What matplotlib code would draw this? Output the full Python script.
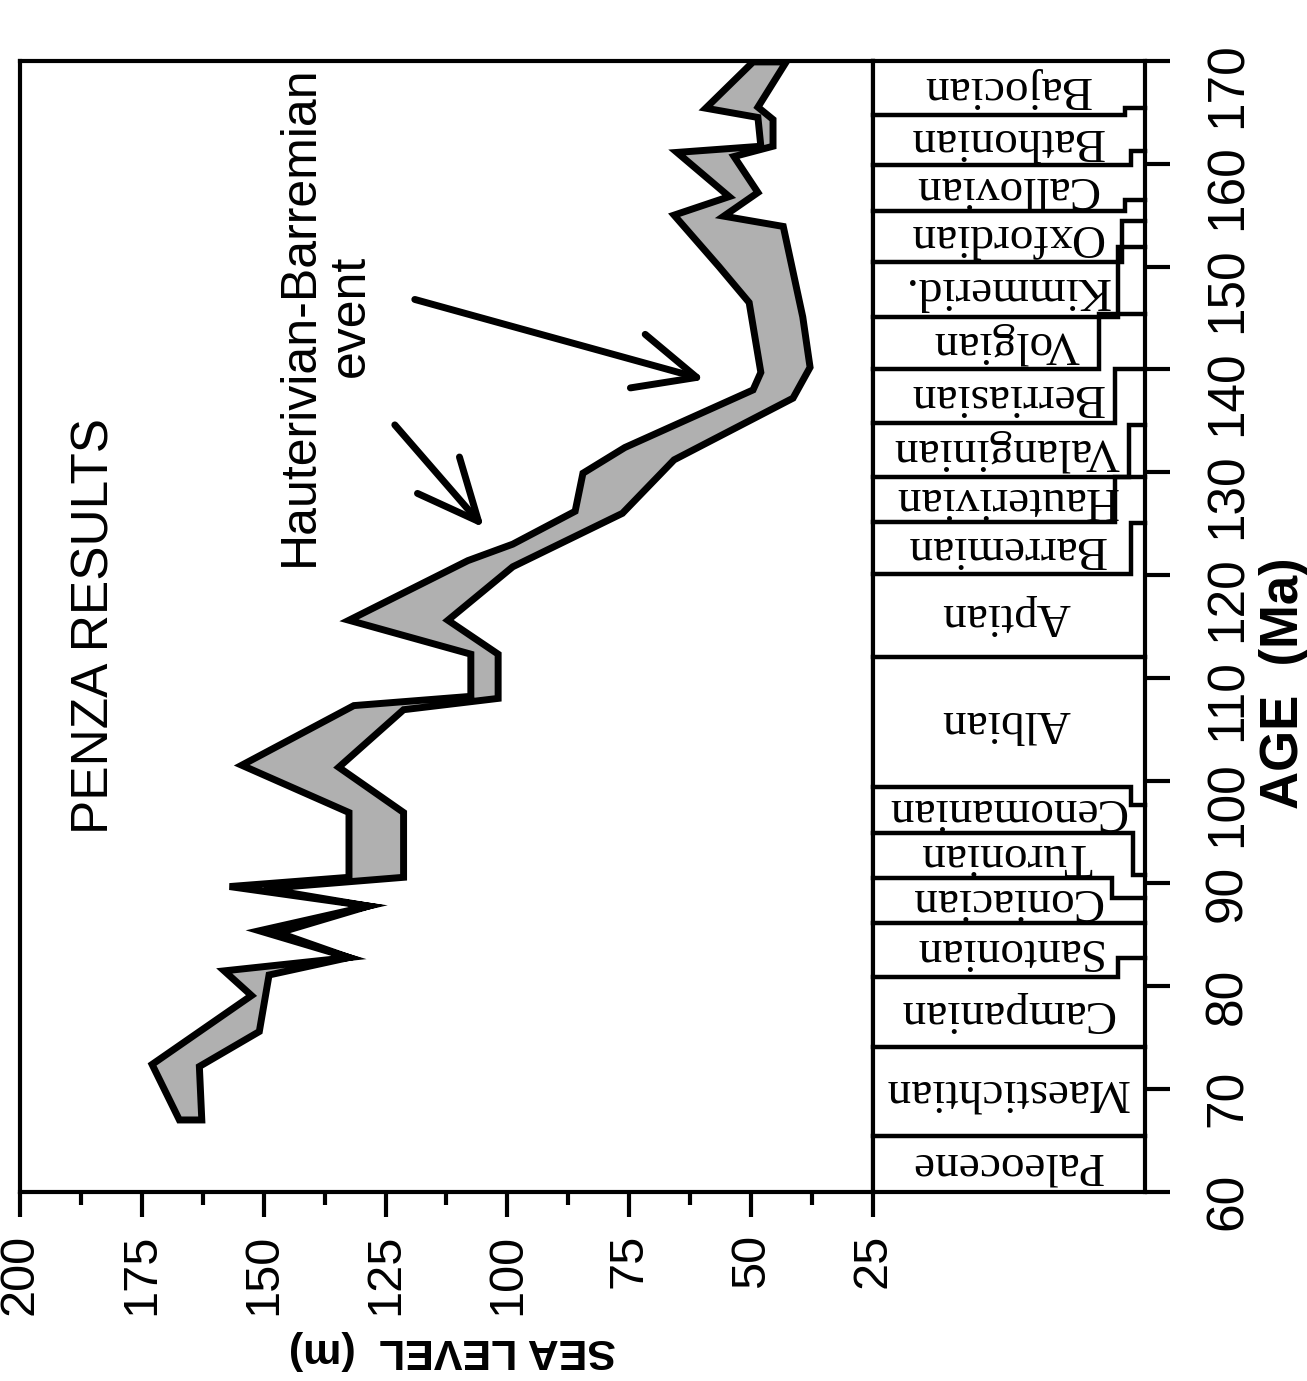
import matplotlib
matplotlib.use("Agg")
import matplotlib.pyplot as plt
from matplotlib.ticker import MultipleLocator

# upper edge of the band (high sea level), young -> old
hi_age = [67.0, 72.4, 79.1, 81.5, 82.8, 85.4, 87.8, 89.7, 90.6, 96.9, 101.5, 107.3,
          108.2, 112.3, 115.6, 121.4, 123.0, 126.2, 129.9, 132.4, 138.0, 139.7,
          146.5, 150.0, 155.0, 156.8, 161.1, 161.7, 164.5, 165.4, 169.9]
hi_sl = [167.3, 172.9, 152.5, 158.1, 132.5, 150.9, 128.5, 157.0, 132.5, 132.5, 154.5, 131.5,
         107.5, 107.5, 132.5, 108.1, 98.9, 86.1, 84.5, 75.9, 49.6, 48.0,
         50.4, 56.6, 65.8, 54.5, 65.2, 48.0, 48.6, 59.3, 49.6]

# lower edge of the band (low sea level), young -> old
lo_age = [67.0, 72.2, 75.6, 81.1, 82.8, 85.2, 87.8, 89.5, 90.6, 96.9, 101.3, 106.9,
          108.0, 112.3, 115.6, 120.8, 126.0, 131.2, 137.2, 140.2, 145.1, 153.9,
          154.9, 157.2, 160.7, 161.7, 164.3, 165.5, 169.9]
lo_sl = [162.7, 163.2, 150.9, 148.9, 132.5, 146.9, 128.5, 149.9, 121.3, 121.3, 134.6, 121.3,
         101.9, 101.9, 112.2, 98.9, 76.4, 65.8, 41.4, 37.9, 39.4, 43.4,
         55.6, 48.6, 53.5, 45.5, 45.5, 48.6, 42.8]

# stratigraphic column
stages = ['Paleocene', 'Maestichtian', 'Campanian', 'Santonian', 'Coniacian', 'Turonian',
          'Cenomanian', 'Albian', 'Aptian', 'Barremian', 'Hauterivian', 'Valanginian',
          'Berriasian', 'Volgian', 'Kimmerid.', 'Oxfordian', 'Callovian', 'Bathonian', 'Bajocian']
bound_left = [60.0, 65.4, 74.1, 80.9, 86.2, 90.5, 94.9, 99.4, 112.0, 120.1, 125.2, 129.5,
              134.8, 140.0, 145.1, 150.4, 155.4, 159.9, 164.7, 170.0]
bound_right = [60.0, 65.4, 74.1, 82.8, 86.2, 88.6, 90.8, 97.6, 112.0, 125.1, 129.5, 134.6,
               140.0, 145.4, 151.9, 154.4, 156.5, 161.2, 165.4, 170.0]
step_pos = [1.0, 1.0, 1.0, 0.90, 1.0, 0.88, 0.955, 0.95, 1.0, 0.95, 0.89, 0.94,
            0.89, 0.83, 0.90, 0.915, 0.925, 0.95, 0.925, 1.0]

sl_ticks = [200, 175, 150, 125, 100, 75, 50, 25]
age_ticks = list(range(60, 171, 10))

sans = 'Liberation Sans'
serif = 'Liberation Serif'

fig = plt.figure(figsize=(13.07, 13.81), dpi=100)
ax = fig.add_axes([0.0153, 0.1369, 0.6526, 0.8190])
ax2 = fig.add_axes([0.6680, 0.1369, 0.2081, 0.8190])

# ---- main panel ----
band_x = hi_sl + lo_sl[::-1]
band_y = hi_age + lo_age[::-1]
ax.fill(band_x, band_y, facecolor='#b0b0b0', edgecolor='black', lw=5, joinstyle='miter')

ax.set_xlim(200, 25)
ax.set_ylim(60, 170)
ax.set_yticks([])
ax.xaxis.set_minor_locator(MultipleLocator(12.5))
ax.set_xticks(sl_ticks)
ax.set_xticklabels([str(t) for t in sl_ticks], fontfamily=sans)
ax.tick_params(axis='x', which='major', length=18, width=3, pad=12,
               labelsize=35, labelrotation=90)
ax.tick_params(axis='x', which='minor', length=9, width=3)
for s in ax.spines.values():
    s.set_linewidth(3)

ax.text(0.088, 0.50, 'PENZA RESULTS', transform=ax.transAxes, rotation=90,
        ha='center', va='center', fontsize=37, fontfamily=sans)
ax.text(0.358, 0.775, 'Hauterivian-Barremian\nevent', transform=ax.transAxes,
        rotation=90, ha='center', va='center', multialignment='center',
        fontsize=36, fontfamily=sans, linespacing=1.12)

arrow = dict(arrowstyle='->,head_length=1.1,head_width=0.5', lw=5, color='black',
             mutation_scale=40, shrinkA=0, shrinkB=0)
ax.annotate('', xy=(104.8, 124.6), xytext=(123.1, 134.6), arrowprops=arrow)
ax.annotate('', xy=(59.5, 139.0), xytext=(119.0, 146.8), arrowprops=arrow)

# ---- stage column ----
ax2.set_xlim(0, 1)
ax2.set_ylim(60, 170)
ax2.set_xticks([])
ax2.yaxis.tick_right()
ax2.set_yticks(age_ticks)
ax2.set_yticklabels([str(t) for t in age_ticks], fontfamily=sans)
ax2.tick_params(axis='y', length=18, width=3, pad=24, labelsize=37, labelrotation=90)
for s in ax2.spines.values():
    s.set_linewidth(3)

for la, ra, sp in zip(bound_left[1:-1], bound_right[1:-1], step_pos[1:-1]):
    ax2.plot([0, sp, sp, 1], [la, la, ra, ra], color='black', lw=3.2,
             solid_joinstyle='miter', clip_on=False)

for i, name in enumerate(stages):
    mid = (bound_left[i] + bound_left[i + 1]) / 2
    ax2.text(0.49, mid, name, rotation=180, ha='center', va='center',
             fontsize=34, fontfamily=serif)

fig.text(452 / 1307, 1 - 1350 / 1381, 'SEA LEVEL  (m)', rotation=180, ha='center',
         va='center', fontsize=31, fontweight='bold', fontfamily=sans)
fig.text(1284 / 1307, 1 - 683 / 1381, 'AGE  (Ma)', rotation=90, ha='center',
         va='center', fontsize=38, fontweight='bold', fontfamily=sans)

fig.savefig('out.png', dpi=100)
